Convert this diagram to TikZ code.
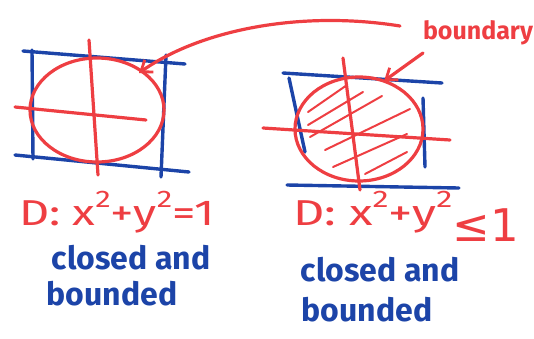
\documentclass[tikz,border=0pt]{standalone}
\usepackage{fontspec}
\usepackage{graphicx}
\setmainfont{Fira Sans}
\newfontfamily\symfont{DejaVu Sans}
\usetikzlibrary{arrows.meta}
\definecolor{pen red}{RGB}{238,62,66}
\definecolor{pen blue}{RGB}{28,68,168}
\tikzset{
  redline/.style={draw=pen red,line width=3.2pt,line cap=round},
  blueline/.style={draw=pen blue,line width=3.4pt,line cap=round},
  hatch/.style={draw=pen red,line width=2pt,line cap=round},
  redtxt/.style={text=pen red,font=\fontsize{36}{40}\selectfont,inner sep=0pt},
  bluetxt/.style={text=pen blue,font=\fontsize{32}{34}\selectfont\bfseries,inner sep=0pt},
  barb/.style={-{Straight Barb[length=10pt,width=15pt,line width=2.8pt]}}
}
\newcommand{\sq}{\raisebox{0.5em}{\fontsize{24}{24}\selectfont 2}}
\begin{document}
\begin{tikzpicture}[x=1pt,y=-1pt]
\useasboundingbox (0,0) rectangle (534,338);
% ---------- left figure ----------
\draw[blueline] (23,51) -- (185,64);
\draw[blueline] (32,50) -- (33,159);
\draw[blueline] (15,155) -- (189,172);
\draw[blueline] (166,55) -- (161,177);
\draw[redline] (97,110) ellipse [x radius=67,y radius=52];
\draw[redline] (89,40) -- (98,175);
\draw[redline] (15,107) -- (146,120);
% ---------- right figure ----------
\draw[blueline] (283,73) -- (442,83);
\draw[blueline] (289,78) -- (305,152);
\draw[blueline] (423,98) -- (425,167);
\draw[blueline] (287,185) -- (459,188);
\draw[redline] (359,129) ellipse [x radius=64,y radius=52];
\draw[redline] (343,58) -- (360,190);
\draw[redline] (263,128) -- (450,140);
\draw[hatch] (308,112) -- (347,85);
\draw[hatch] (308,125) -- (363,92);
\draw[hatch] (310,137) -- (382,96);
\draw[hatch] (325,150) -- (410,109);
\draw[hatch] (333,167) -- (407,134);
\draw[hatch] (365,174) -- (407,152);
% ---------- labels ----------
\node[redtxt,font=\fontsize{25}{27}\selectfont\bfseries] (bd) at (478,33) {boundary};
\coordinate (tipL) at (139,73);
\coordinate (tipR) at (384,81);
\draw[redline,barb] (400,26) .. controls (300,10) and (200,30) .. (tipL);
\draw[redline,barb] (423,53) -- (tipR);
\node[redtxt] (eqL) at (117,212) {\scalebox{1.3}[1]{D: x\sq+y\sq=1}};
\node[bluetxt] (c1) at (131,258) {closed and};
\node[bluetxt] (b1) at (112,294) {bounded};
\node[redtxt,anchor=west] (eqR) at (293,216) {\scalebox{1.35}[1]{D: x\sq+y\sq}\raisebox{-0.45em}{\scalebox{1.25}{\symfont ≤1}}};
\node[bluetxt] (c2) at (380,270) {closed and};
\node[bluetxt] (b2) at (367,310) {bounded};
\end{tikzpicture}
\end{document}
